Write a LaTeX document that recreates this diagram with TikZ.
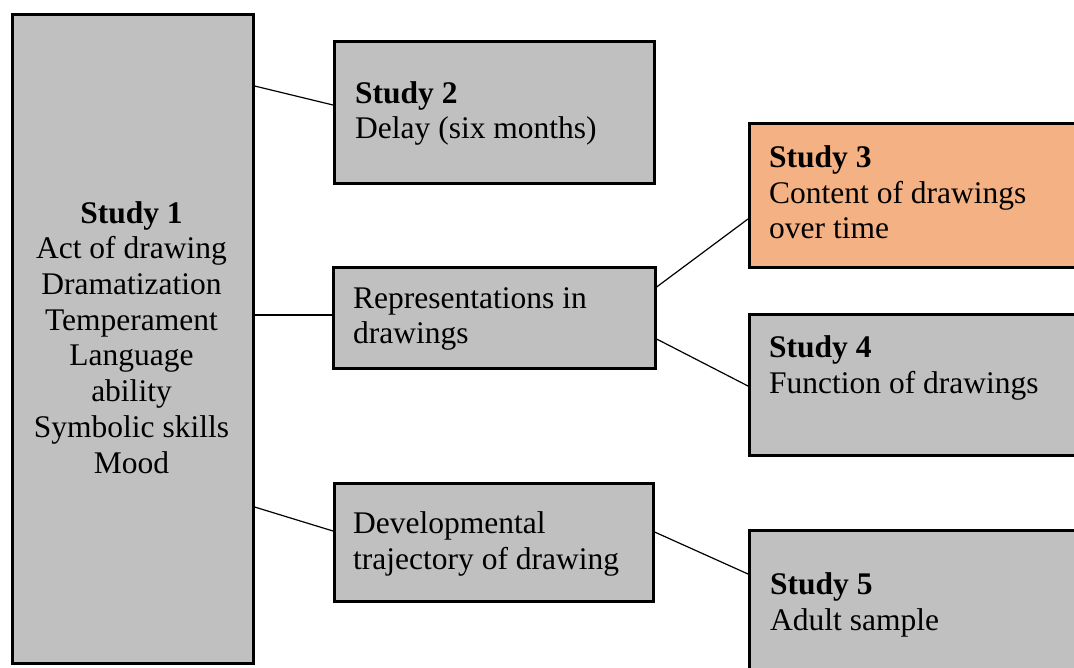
\documentclass[tikz,border=0pt]{standalone}
\usepackage{fontspec}
\setmainfont{Liberation Serif}
\definecolor{boxgray}{RGB}{192,192,192}
\definecolor{boxorange}{RGB}{244,177,131}
\tikzset{
  studybox/.style={draw=black, line width=2.6pt, fill=boxgray, inner sep=0pt, anchor=north west},
  hibox/.style={studybox, fill=boxorange},
  label/.style={inner sep=0pt, font=\fontsize{31.5}{35.7}\selectfont, align=left, anchor=base west},
  clabel/.style={label, align=center, anchor=base},
  link/.style={draw=black, line width=1.2pt}
}
\begin{document}
\begin{tikzpicture}[x=1pt,y=-1pt]
\useasboundingbox (0,0) rectangle (1074,668);
% boxes
\node[studybox, minimum width=241pt, minimum height=649pt] (s1) at (11,13) {};
\node[studybox, minimum width=320pt, minimum height=142pt] (s2) at (333,40) {};
\node[studybox, minimum width=322pt, minimum height=101pt] (rep) at (332,266) {};
\node[studybox, minimum width=319pt, minimum height=118pt] (dev) at (333,482) {};
\node[hibox, minimum width=342pt, minimum height=144pt] (s3) at (748,122) {};
\node[studybox, minimum width=342pt, minimum height=141pt] (s4) at (748,313) {};
\node[studybox, minimum width=342pt, minimum height=171pt] (s5) at (748,529) {};
% texts (anchored at the baseline of the last line)
\node[clabel] (t1) at (131.5,473) {\textbf{Study 1}\\Act of drawing\\Dramatization\\Temperament\\Language\\ability\\Symbolic skills\\Mood};
\node[label] (t2) at (355,139) {\textbf{Study 2}\\Delay (six months)};
\node[label] (trep) at (353,344) {Representations in\\drawings};
\node[label] (tdev) at (353,569) {Developmental\\trajectory of drawing};
\node[label] (t3) at (769,239) {\textbf{Study 3}\\Content of drawings\\over time};
\node[label] (t4) at (769,393) {\textbf{Study 4}\\Function of drawings};
\node[label] (t5) at (770,630) {\textbf{Study 5}\\Adult sample};
% connectors
\draw[link] ([yshift=-73pt]s1.north east) -- ([yshift=-65pt]s2.north west);
\draw[link] ([yshift=-302pt]s1.north east) -- ([yshift=-49pt]rep.north west);
\draw[link] ([yshift=-494pt]s1.north east) -- ([yshift=-49pt]dev.north west);
\draw[link] ([yshift=-21pt]rep.north east) -- ([yshift=-97pt]s3.north west);
\draw[link] ([yshift=-73pt]rep.north east) -- ([yshift=-73pt]s4.north west);
\draw[link] ([yshift=-50pt]dev.north east) -- ([yshift=-45pt]s5.north west);
\end{tikzpicture}
\end{document}
